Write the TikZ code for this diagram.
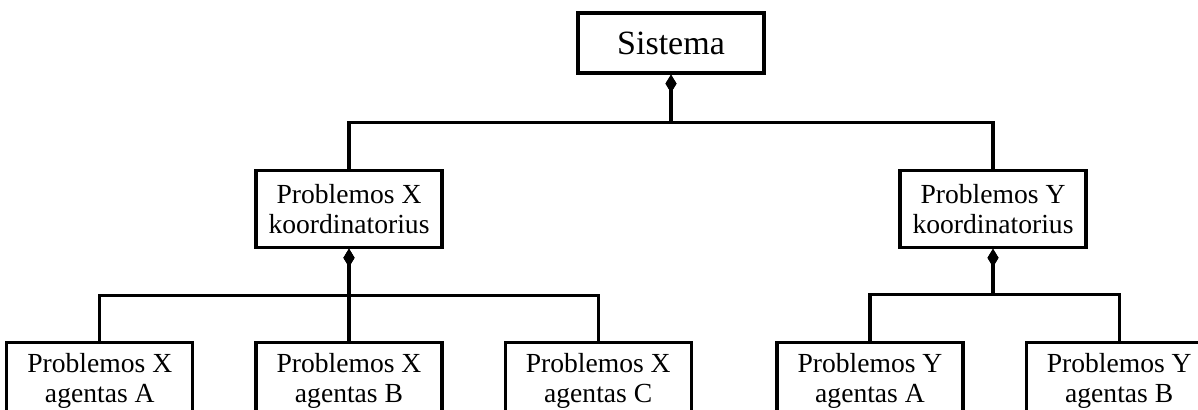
\documentclass[tikz,border=0pt]{standalone}
\usepackage{fontspec}
\setmainfont{Liberation Serif}
\usetikzlibrary{arrows.meta,positioning}

\begin{document}
\begin{tikzpicture}[font=\fontsize{13.8}{15}\selectfont, box/.style={draw, line width=1.6pt, align=center, minimum width=93pt, minimum height=38.5pt, inner sep=2pt}, link/.style={{Diamond[length=9pt,width=5.5pt]}-, line width=1.6pt}]
\clip (-335.5pt,21.5pt) rectangle (263.5pt,-183pt);
% top level
\node[box, minimum height=30pt, font=\fontsize{17}{20}\selectfont] (sys) {Sistema};
% coordinators
\node[box, below=47pt of sys, xshift=-161pt] (xk) {Problemos X\\koordinatorius};
\node[box, below=47pt of sys, xshift=161pt] (yk) {Problemos Y\\koordinatorius};
% agents of X
\node[box, below=46pt of xk] (xb) {Problemos X\\agentas B};
\node[box, left=30pt of xb] (xa) {Problemos X\\agentas A};
\node[box, right=30pt of xb] (xc) {Problemos X\\agentas C};
% agents of Y
\node[box, below=46pt of yk, xshift=-61.5pt] (ya) {Problemos Y\\agentas A};
\node[box, right=30pt of ya] (yb) {Problemos Y\\agentas B};
% connectors
\draw[link] (sys.south) -- ++(0,-24pt) -| (xk.north);
\draw[link] (sys.south) -- ++(0,-24pt) -| (yk.north);
\draw[link] (xk.south) -- ++(0,-23.5pt) -| (xa.north);
\draw[link] (xk.south) -- (xb.north);
\draw[link] (xk.south) -- ++(0,-23.5pt) -| (xc.north);
\draw[link] (yk.south) -- ++(0,-23pt) -| (ya.north);
\draw[link] (yk.south) -- ++(0,-23pt) -| (yb.north);
\end{tikzpicture}
\end{document}
